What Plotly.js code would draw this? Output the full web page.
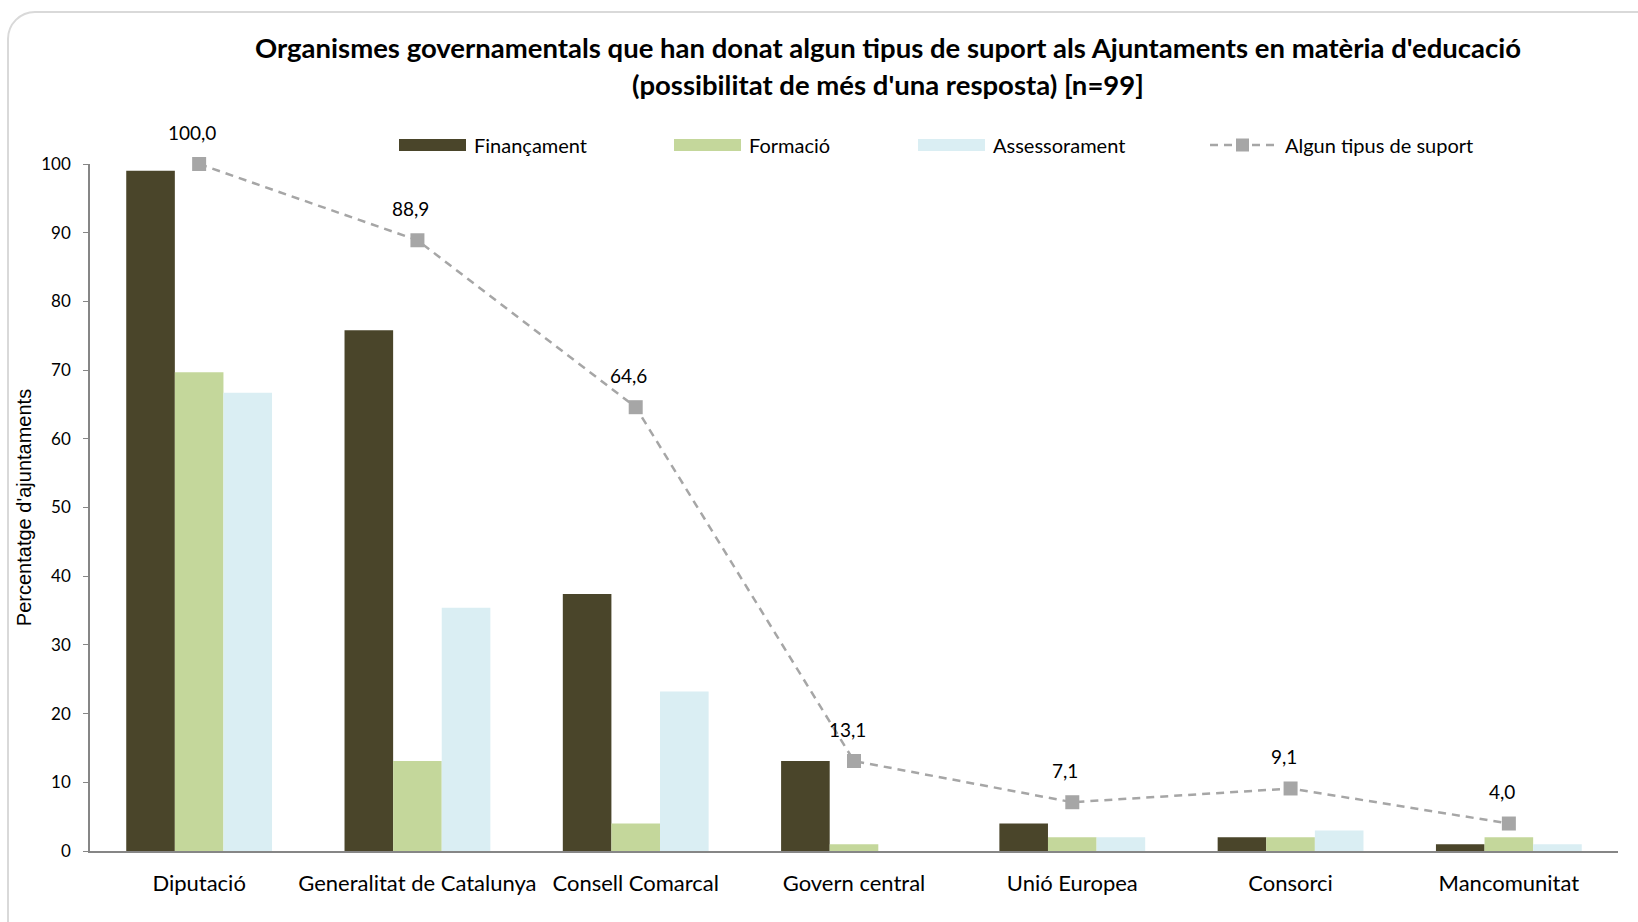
<!DOCTYPE html>
<html>
<head>
<meta charset="utf-8">
<script src="https://cdn.plot.ly/plotly-3.0.1.min.js"></script>
<style>
  html, body { margin: 0; padding: 0; background: #fff; overflow: hidden; }
  #frame {
    position: absolute; left: 7px; top: 11px; width: 1700px; height: 1000px;
    border: 2px solid #d9d9d9; border-radius: 28px; box-sizing: border-box;
  }
  #myChart { position: absolute; left: 0; top: 0; width: 1638px; height: 922px; }
</style>
</head>
<body>
<div id="frame"></div>
<div id="myChart"></div>
<script>
var categories = ['Diputació', 'Generalitat de Catalunya', 'Consell Comarcal', 'Govern central', 'Unió Europea', 'Consorci', 'Mancomunitat']
var financament = [99.0, 75.8, 37.4, 13.1, 4.0, 2.0, 1.0]
var formacio = [69.7, 13.1, 4.0, 1.0, 2.0, 2.0, 2.0]
var assessorament = [66.7, 35.4, 23.2, 0.0, 2.0, 3.0, 1.0]
var alguns = [100.0, 88.9, 64.6, 13.1, 7.1, 9.1, 4.0]
var seriesNames = ['Finançament', 'Formació', 'Assessorament', 'Algun tipus de suport']
var yTicks = [0, 10, 20, 30, 40, 50, 60, 70, 80, 90, 100]

var colors = ['#4a452a', '#c4d79b', '#daeef3', '#a6a6a6']
var font = 'Lato, "Open Sans", sans-serif'

// plot area in pixels, used to place the hand made legend and title
var L = 90, R = 1618, T = 164, B = 851
function px(x){ return (x - L) / (R - L) }
function py(y){ return (B - y) / (B - T) }

function barTrace(values, i){
    return {
        type: 'bar',
        name: seriesNames[i],
        x: categories,
        y: values,
        marker: {color: colors[i]},
        hoverinfo: 'x+y+name'
    }
}

var traces = [
    barTrace(financament, 0),
    barTrace(formacio, 1),
    barTrace(assessorament, 2),
    {
        type: 'scatter',
        mode: 'lines+markers',
        name: seriesNames[3],
        x: categories,
        y: alguns,
        cliponaxis: false,
        line: {color: colors[3], width: 2.5, dash: '8px,6px'},
        marker: {symbol: 'square', size: 14, color: colors[3]}
    }
]

var annotations = []
alguns.forEach((v, i) => {
    annotations.push({
        x: categories[i], y: v, xref: 'x', yref: 'y',
        text: v.toFixed(1).replace('.', ','),
        showarrow: false, yshift: 32, xshift: -7,
        font: {family: font, size: 19, color: '#000'}
    })
})

// title, two lines
annotations.push({
    xref: 'paper', yref: 'paper', x: px(888), y: py(48), yanchor: 'middle',
    text: "<b>Organismes governamentals que han donat algun tipus de suport als Ajuntaments en matèria d'educació</b>",
    showarrow: false, font: {family: font, size: 27.5, color: '#000'}
})
annotations.push({
    xref: 'paper', yref: 'paper', x: px(888), y: py(84), yanchor: 'middle',
    text: "<b>(possibilitat de més d'una resposta) [n=99]</b>",
    showarrow: false, font: {family: font, size: 27.5, color: '#000'}
})

// legend drawn by hand so the swatches are wide like the original
var legendX = [399, 674, 918, 1210]
var legendY = 145
var shapes = []
seriesNames.forEach((name, i) => {
    var x0 = legendX[i]
    if (i < 3) {
        shapes.push({
            type: 'rect', xref: 'paper', yref: 'paper',
            x0: px(x0), x1: px(x0 + 67), y0: py(legendY - 6), y1: py(legendY + 6),
            fillcolor: colors[i], line: {width: 0}
        })
    } else {
        shapes.push({
            type: 'line', xref: 'paper', yref: 'paper',
            x0: px(x0), x1: px(x0 + 64), y0: py(legendY), y1: py(legendY),
            line: {color: colors[3], width: 2.5, dash: '8px,6px'}
        })
        shapes.push({
            type: 'rect', xref: 'paper', yref: 'paper',
            x0: px(x0 + 26), x1: px(x0 + 39), y0: py(legendY - 6.5), y1: py(legendY + 6.5),
            fillcolor: colors[3], line: {width: 0}
        })
    }
    annotations.push({
        xref: 'paper', yref: 'paper', x: px(x0 + 73), y: py(legendY),
        xanchor: 'left', yanchor: 'middle', showarrow: false,
        text: name, font: {family: font, size: 20, color: '#000'}
    })
})

var layout = {
    width: 1638,
    height: 922,
    margin: {l: L, r: 1638 - R, t: T, b: 922 - B, pad: 0},
    paper_bgcolor: 'rgba(0,0,0,0)',
    plot_bgcolor: 'rgba(0,0,0,0)',
    showlegend: false,
    barmode: 'group',
    bargap: 0.332,
    bargroupgap: 0,
    font: {family: font, color: '#000'},
    xaxis: {
        type: 'category',
        showline: true, linecolor: '#868686', linewidth: 2,
        ticks: '', showgrid: false, zeroline: false,
        tickfont: {family: font, size: 22, color: '#000'},
        ticklabelstandoff: 12
    },
    yaxis: {
        range: [0, 100],
        tickvals: yTicks,
        ticktext: yTicks.map(String),
        showline: true, linecolor: '#868686', linewidth: 1.5,
        ticks: 'outside', ticklen: 5, tickcolor: '#868686', tickwidth: 1,
        showgrid: false, zeroline: false,
        tickfont: {family: font, size: 17, color: '#000'},
        ticklabelstandoff: 9,
        title: {
            text: "Percentatge d'ajuntaments",
            font: {family: '"Liberation Sans", Arial, sans-serif', size: 20, color: '#000'},
            standoff: 4
        }
    },
    shapes: shapes,
    annotations: annotations
}

Plotly.newPlot('myChart', traces, layout, {displayModeBar: false})
</script>
</body>
</html>
